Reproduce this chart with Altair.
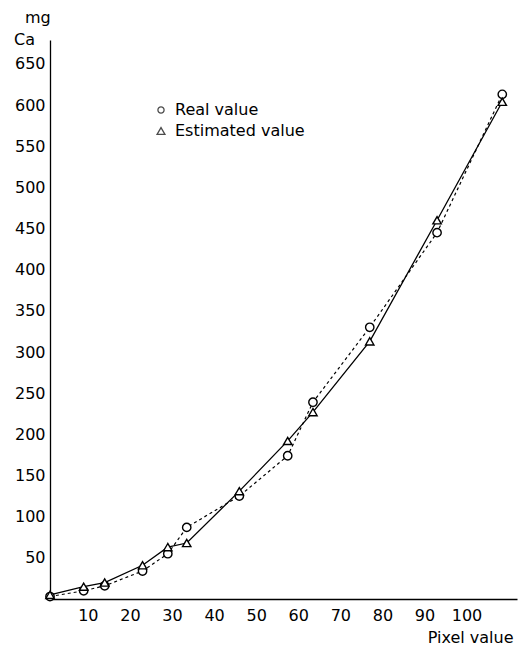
import altair as alt
import pandas as pd

# Data
pixel = [1, 9, 14, 23, 29, 33.5, 46, 57.5, 63.5, 77, 93, 108.5]
real = [3, 10, 16, 34, 55, 87, 125, 174, 239, 330, 445, 613]
estimated = [5, 15, 20, 41, 63, 68, 131, 192, 227, 313, 460, 604]
series_names = ["Real value", "Estimated value"]
series_shapes = ["circle", "triangle-up"]
x_ticks = [10, 20, 30, 40, 50, 60, 70, 80, 90, 100]
y_ticks = [50, 100, 150, 200, 250, 300, 350, 400, 450, 500, 550, 600, 650]

df = pd.concat([
    pd.DataFrame({"pixel": pixel, "ca": real, "series": series_names[0]}),
    pd.DataFrame({"pixel": pixel, "ca": estimated, "series": series_names[1]}),
])

FONT = "DejaVu Sans"

x_enc = alt.X(
    "pixel:Q",
    scale=alt.Scale(domain=[1, 112], nice=False, zero=False),
    axis=alt.Axis(
        values=x_ticks, title="Pixel value", ticks=False, grid=False,
        labelPadding=8, titleAnchor="end", titleAlign="right",
        titleBaseline="middle", titleX=463, titleY=38,
        titleFontWeight="normal", titleFont=FONT, titleFontSize=16,
        titleColor="black",
    ),
)
y_enc = alt.Y(
    "ca:Q",
    scale=alt.Scale(domain=[0, 679], nice=False),
    axis=alt.Axis(values=y_ticks, title=None, ticks=False, grid=False, labelPadding=5),
)

base = alt.Chart(df)

line_real = base.transform_filter(alt.datum.series == series_names[0]).mark_line(
    color="black", strokeWidth=1.2, strokeDash=[3, 3]
).encode(x=x_enc, y=y_enc)

line_est = base.transform_filter(alt.datum.series == series_names[1]).mark_line(
    color="black", strokeWidth=1.3
).encode(x=x_enc, y=y_enc)

points = base.mark_point(
    filled=False, color="black", fill="white", fillOpacity=1, strokeWidth=1.4,
    size=70, opacity=1
).encode(
    x=x_enc,
    y=y_enc,
    shape=alt.Shape(
        "series:N",
        scale=alt.Scale(domain=series_names, range=series_shapes),
        legend=None,
    ),
)

# Hand-placed legend (as in the original figure)
legend_layers = []
for i, (name, shp, sz) in enumerate(zip(series_names, series_shapes, [38, 62])):
    ldf = pd.DataFrame({"t": [name]})
    legend_layers.append(
        alt.Chart(ldf).mark_point(
            shape=shp, size=sz, filled=False, color="black", strokeWidth=1.3
        ).encode(x=alt.value(111), y=alt.value(70 + 21 * i))
    )
    legend_layers.append(
        alt.Chart(ldf).mark_text(
            align="left", baseline="middle", font=FONT, fontSize=16, color="black"
        ).encode(x=alt.value(125), y=alt.value(70 + 21 * i), text="t:N")
    )

mg = alt.Chart(pd.DataFrame({"t": ["mg"]})).mark_text(
    align="left", baseline="middle", font=FONT, fontSize=16, color="black"
).encode(x=alt.value(-25), y=alt.value(-22), text="t:N")

ca = alt.Chart(pd.DataFrame({"t": ["Ca"]})).mark_text(
    align="left", baseline="middle", font=FONT, fontSize=16, color="black"
).encode(x=alt.value(-36), y=alt.value(0), text="t:N")

chart = alt.layer(line_real, line_est, points, *legend_layers, mg, ca).properties(
    width=467,
    height=559,
    autosize=alt.AutoSizeParams(type="none"),
    padding={"left": 42, "top": 32, "right": 1, "bottom": 47},
).configure_view(stroke=None).configure_axis(
    domainColor="black", domainWidth=1.3, labelFont=FONT, labelFontSize=16,
    labelColor="black",
)

chart.save("out.html", embed_options={"renderer": "svg", "actions": False})
